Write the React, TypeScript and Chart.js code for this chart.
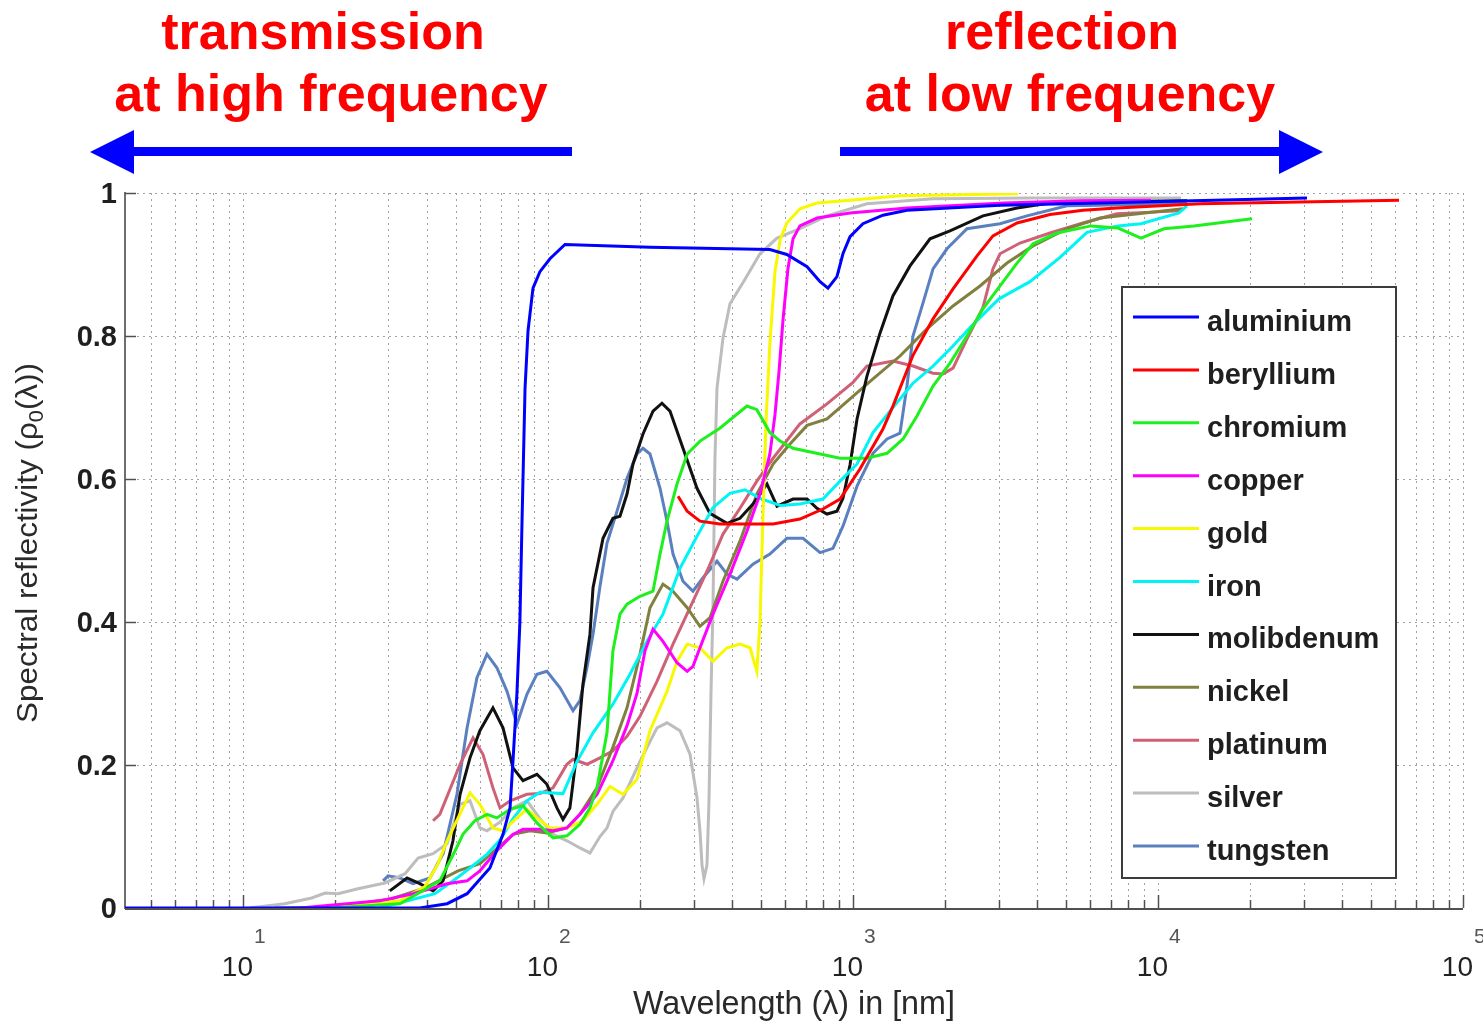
import React, { useEffect, useRef } from "react";
import { Chart, registerables } from "chart.js";

Chart.register(...registerables);

// ---------------- data (wavelength in nm, spectral reflectivity 0..1) ----------------
const seriesNames = [
  "aluminium", "beryllium", "chromium", "copper", "gold", "iron",
  "molibdenum", "nickel", "platinum", "silver", "tungsten",
];
const seriesColors = [
  "#0000FF", "#FF0000", "#1EF01E", "#FF00FF", "#F8F800", "#00F4F4",
  "#111111", "#82803F", "#CF6176", "#BDBDBD", "#5B80C0",
];

const aluminiumWavelength = [4.1, 38.0, 46.7, 54.3, 64.5, 71.2, 75.1, 76.8, 79.1, 80.9, 82.2, 84.1, 86.0, 89.3, 94.1, 101.5, 113.7, 216, 534, 607, 707, 780, 828, 886, 927, 978, 1078, 1254, 1503, 3034, 6453, 30800];
const aluminiumReflectivity = [0, 0, 0.006, 0.020, 0.056, 0.103, 0.140, 0.206, 0.300, 0.400, 0.540, 0.727, 0.807, 0.867, 0.890, 0.908, 0.928, 0.924, 0.921, 0.914, 0.897, 0.876, 0.867, 0.883, 0.915, 0.939, 0.957, 0.969, 0.976, 0.983, 0.986, 0.993];

const berylliumWavelength = [267, 286, 315, 366, 547, 670, 797, 907, 1054, 1254, 1352, 1573, 1830, 2128, 2551, 2877, 3450, 4425, 5677, 7338, 13730, 61680];
const berylliumReflectivity = [0.576, 0.555, 0.541, 0.537, 0.537, 0.544, 0.558, 0.572, 0.614, 0.670, 0.702, 0.773, 0.824, 0.866, 0.912, 0.940, 0.958, 0.970, 0.976, 0.979, 0.985, 0.990];

const chromiumWavelength = [19.3, 32.7, 44.2, 49.6, 52.6, 57.6, 63.1, 68.0, 75.1, 82.8, 92.0, 103.9, 115.4, 127.3, 137.3, 144.8, 156.1, 163.3, 172.2, 181.6, 200.3, 221.0, 233.0, 245.6, 264.9, 286, 315, 366, 449, 484, 534, 577, 636, 907, 1111, 1293, 1459, 1621, 1830, 2080, 2365, 2668, 3034, 3450, 3893, 4665, 6030, 7395, 8797, 10460, 13120, 20330];
const chromiumReflectivity = [0, 0.006, 0.038, 0.080, 0.103, 0.122, 0.131, 0.126, 0.138, 0.143, 0.119, 0.098, 0.101, 0.117, 0.140, 0.168, 0.245, 0.360, 0.411, 0.425, 0.436, 0.443, 0.495, 0.541, 0.593, 0.635, 0.653, 0.671, 0.702, 0.697, 0.665, 0.653, 0.643, 0.629, 0.629, 0.636, 0.656, 0.688, 0.730, 0.762, 0.800, 0.838, 0.870, 0.902, 0.929, 0.944, 0.954, 0.951, 0.937, 0.950, 0.954, 0.964];

const copperWavelength = [15.4, 28.1, 36.1, 46.7, 54.3, 59.8, 68.0, 76.8, 82.8, 94.1, 103.9, 115.4, 127.3, 144.8, 163.3, 181.6, 195.8, 208.0, 221.0, 238.2, 264.9, 286, 298.8, 315, 347.5, 395.1, 449, 495.6, 534, 555, 572, 590, 612, 636, 670, 762, 978, 1503, 3127, 5551, 9484];
const copperReflectivity = [0, 0.010, 0.020, 0.034, 0.038, 0.052, 0.080, 0.103, 0.110, 0.110, 0.108, 0.112, 0.131, 0.159, 0.206, 0.255, 0.300, 0.360, 0.390, 0.373, 0.343, 0.331, 0.338, 0.364, 0.411, 0.467, 0.527, 0.579, 0.635, 0.690, 0.750, 0.824, 0.894, 0.936, 0.954, 0.965, 0.972, 0.979, 0.986, 0.989, 0.990];

const goldWavelength = [19.3, 32.7, 39.5, 43.6, 46.7, 52.6, 55.5, 59.8, 66.0, 71.2, 79.1, 85.3, 92.0, 101.5, 115.4, 130.2, 144.8, 159.7, 176.2, 195.8, 216, 245.6, 264.9, 286, 315, 347.5, 386.3, 426.1, 459.6, 484, 495.6, 506.9, 518.6, 534, 555, 577, 607, 670, 762, 978, 1426, 3475];
const goldReflectivity = [0, 0.010, 0.030, 0.062, 0.094, 0.140, 0.161, 0.145, 0.112, 0.108, 0.126, 0.138, 0.126, 0.112, 0.112, 0.122, 0.145, 0.170, 0.159, 0.180, 0.248, 0.303, 0.345, 0.369, 0.364, 0.345, 0.364, 0.369, 0.364, 0.331, 0.400, 0.550, 0.680, 0.790, 0.890, 0.935, 0.958, 0.978, 0.986, 0.990, 0.996, 0.999];

const ironWavelength = [28.1, 42.6, 50.3, 55.5, 63.1, 69.6, 76.8, 85.3, 94.1, 112.0, 124.5, 140.5, 163.3, 185.7, 211.2, 238.2, 270.9, 308.0, 347.5, 395.1, 442.5, 495.6, 577, 670, 797, 907, 1031, 1163, 1352, 1573, 1830, 2128, 2474, 3011, 3805, 4772, 5851, 7395, 8797, 11720, 12450];
const ironReflectivity = [0, 0.020, 0.042, 0.056, 0.075, 0.095, 0.125, 0.150, 0.162, 0.160, 0.205, 0.245, 0.285, 0.327, 0.373, 0.411, 0.475, 0.520, 0.560, 0.580, 0.585, 0.573, 0.563, 0.565, 0.572, 0.597, 0.621, 0.665, 0.700, 0.734, 0.758, 0.786, 0.816, 0.852, 0.876, 0.910, 0.945, 0.954, 0.957, 0.972, 0.982];

const molibdenumWavelength = [30.3, 34.5, 38.0, 42.0, 45.3, 48.8, 51.5, 55.5, 59.8, 66.0, 71.2, 76.8, 82.8, 92.0, 99.2, 107.0, 112.0, 118.0, 124.5, 130.2, 137.3, 140.5, 151.5, 163.3, 172.2, 181.6, 190.0, 204.9, 221.0, 236.4, 251.2, 277.1, 308.0, 339.7, 386.3, 426.1, 469.9, 522.4, 563.5, 636, 707, 762, 821.8, 886, 927, 978, 1031, 1111, 1226, 1352, 1538, 1789, 2080, 2668, 3450, 4425, 5551, 12450];
const molibdenumReflectivity = [0.024, 0.042, 0.034, 0.024, 0.038, 0.094, 0.159, 0.210, 0.248, 0.280, 0.252, 0.196, 0.178, 0.187, 0.173, 0.140, 0.124, 0.140, 0.220, 0.313, 0.383, 0.448, 0.517, 0.545, 0.548, 0.579, 0.621, 0.663, 0.695, 0.706, 0.695, 0.643, 0.587, 0.552, 0.538, 0.545, 0.565, 0.593, 0.562, 0.572, 0.572, 0.559, 0.551, 0.555, 0.573, 0.620, 0.684, 0.744, 0.804, 0.856, 0.898, 0.936, 0.947, 0.968, 0.979, 0.986, 0.987, 0.989];

const nickelWavelength = [12.7, 18.6, 23.8, 30.8, 39.5, 50.7, 59.8, 76.8, 87.3, 99.2, 115.4, 127.3, 144.8, 163.3, 181.6, 200.3, 216, 238.2, 257.0, 286, 315, 339.7, 374.8, 426.1, 484, 547, 621.5, 707, 821.8, 978, 1163, 1426, 1748, 2128, 2609, 3199, 3893, 5031, 6453, 12080];
const nickelReflectivity = [0, 0.001, 0.006, 0.013, 0.028, 0.052, 0.062, 0.103, 0.108, 0.105, 0.112, 0.131, 0.168, 0.225, 0.280, 0.355, 0.420, 0.453, 0.443, 0.420, 0.394, 0.406, 0.457, 0.513, 0.579, 0.621, 0.649, 0.675, 0.684, 0.712, 0.740, 0.772, 0.810, 0.842, 0.870, 0.902, 0.926, 0.950, 0.965, 0.978];

const platinumWavelength = [42.0, 44.2, 51.5, 56.8, 61.2, 66.0, 69.6, 75.1, 85.3, 94.1, 103.9, 115.4, 120.8, 134.2, 148.1, 163.3, 181.6, 200.3, 227.7, 257.0, 292.2, 332.1, 374.8, 426.1, 484, 547, 670, 821.8, 1000, 1111, 1352, 1573, 1830, 1973, 2128, 2365, 2668, 2877, 3034, 3528, 4425, 5677, 7338, 11720];
const platinumReflectivity = [0.122, 0.131, 0.201, 0.238, 0.215, 0.168, 0.140, 0.150, 0.159, 0.160, 0.168, 0.201, 0.208, 0.201, 0.210, 0.220, 0.240, 0.268, 0.317, 0.369, 0.420, 0.471, 0.523, 0.559, 0.597, 0.629, 0.677, 0.705, 0.735, 0.758, 0.765, 0.758, 0.748, 0.747, 0.755, 0.796, 0.840, 0.894, 0.915, 0.930, 0.944, 0.958, 0.971, 0.975];

const silverWavelength = [10.5, 13.7, 16.8, 18.6, 20.5, 23.8, 29.2, 34.0, 37.5, 42.0, 46.7, 51.5, 55.5, 59.8, 63.1, 69.6, 76.8, 85.3, 94.1, 103.9, 115.4, 127.3, 137.3, 148.1, 156.1, 163.3, 176.2, 200.3, 227.7, 245.6, 270.9, 292.2, 308.0, 315, 319.9, 324.7, 332.1, 337.2, 342.3, 347.5, 352.8, 358.2, 374.8, 395.1, 439.1, 495.6, 563.5, 670, 821.8, 1111, 1830, 3893, 11900];
const silverReflectivity = [0, 0.006, 0.014, 0.021, 0.020, 0.027, 0.035, 0.048, 0.070, 0.076, 0.090, 0.145, 0.150, 0.112, 0.108, 0.120, 0.140, 0.150, 0.125, 0.103, 0.094, 0.084, 0.077, 0.100, 0.112, 0.135, 0.154, 0.205, 0.252, 0.259, 0.248, 0.215, 0.154, 0.108, 0.060, 0.041, 0.060, 0.150, 0.300, 0.420, 0.630, 0.727, 0.797, 0.845, 0.877, 0.915, 0.937, 0.950, 0.968, 0.985, 0.992, 0.993, 0.993];

const tungstenWavelength = [28.8, 29.9, 32.7, 36.1, 41.0, 45.3, 50.3, 54.3, 58.5, 63.1, 68.0, 73.4, 79.1, 85.3, 92.0, 99.2, 109.5, 120.8, 127.3, 134.2, 140.5, 148.1, 156.1, 168.4, 181.6, 195.8, 204.9, 216, 233.0, 245.6, 257.0, 277.1, 298.8, 322.3, 358.2, 386.3, 416.6, 469.9, 534, 607, 685.7, 780, 859.7, 927, 1031, 1163, 1293, 1426, 1503, 1573, 1696, 1830, 2033, 2365, 3034, 3719, 5031, 12450];
const tungstenReflectivity = [0.038, 0.045, 0.042, 0.034, 0.042, 0.076, 0.159, 0.252, 0.322, 0.355, 0.336, 0.303, 0.257, 0.299, 0.327, 0.331, 0.308, 0.276, 0.290, 0.336, 0.383, 0.450, 0.510, 0.555, 0.601, 0.635, 0.643, 0.635, 0.587, 0.541, 0.495, 0.457, 0.443, 0.462, 0.485, 0.467, 0.460, 0.481, 0.495, 0.517, 0.517, 0.497, 0.503, 0.534, 0.590, 0.636, 0.656, 0.664, 0.730, 0.800, 0.846, 0.894, 0.922, 0.950, 0.957, 0.968, 0.982, 0.985];

// axis ticks and labels
const xMin = 4.104;
const xMax = 100000;
const xMajorTicks = [10, 100, 1000, 10000, 100000];
const xMajorExponents = ["1", "2", "3", "4", "5"];
const xDecadeStarts = [1, 10, 100, 1000, 10000];
const xMinorFactors = [2, 3, 4, 5, 6, 7, 8, 9];
const yTicks = [0, 0.2, 0.4, 0.6, 0.8, 1];
const yTickLabels = ["0", "0.2", "0.4", "0.6", "0.8", "1"];
const xAxisTitle = "Wavelength (\u03bb) in [nm]";
const yAxisTitleParts = ["Spectral reflectivity (\u03c1", "0", "(\u03bb))"];
const leftNote = ["transmission", "at high frequency"];
const rightNote = ["reflection", "at low frequency"];

const seriesData: number[][][] = [
  [aluminiumWavelength, aluminiumReflectivity],
  [berylliumWavelength, berylliumReflectivity],
  [chromiumWavelength, chromiumReflectivity],
  [copperWavelength, copperReflectivity],
  [goldWavelength, goldReflectivity],
  [ironWavelength, ironReflectivity],
  [molibdenumWavelength, molibdenumReflectivity],
  [nickelWavelength, nickelReflectivity],
  [platinumWavelength, platinumReflectivity],
  [silverWavelength, silverReflectivity],
  [tungstenWavelength, tungstenReflectivity],
];

const FONT = '"Liberation Sans", Arial, Helvetica, sans-serif';

function xGridValues(): number[] {
  const vals: number[] = [];
  xDecadeStarts.forEach((d) => {
    xMinorFactors.forEach((f) => {
      const v = d * f;
      if (v >= xMin && v <= xMax) vals.push(v);
    });
  });
  return vals;
}

function fitFontSize(ctx: CanvasRenderingContext2D, text: string, weight: string, target: number) {
  ctx.font = `${weight} 100px ${FONT}`;
  const w = ctx.measureText(text).width;
  return (100 * target) / w;
}

const decorPlugin = {
  id: "decor",
  beforeDraw(chart: any) {
    const { ctx } = chart;
    ctx.save();
    ctx.fillStyle = "#ffffff";
    ctx.fillRect(0, 0, chart.width, chart.height);
    ctx.restore();
  },
  beforeDatasetsDraw(chart: any) {
    const { ctx, chartArea: a, scales } = chart;
    const xs = scales.x;
    const ys = scales.y;
    ctx.save();
    // dotted grid
    ctx.strokeStyle = "#a2a2a2";
    ctx.lineWidth = 1;
    ctx.setLineDash([2, 4]);
    const minors = xGridValues();
    [...minors, ...xMajorTicks].forEach((v) => {
      const px = Math.round(xs.getPixelForValue(v)) + 0.5;
      ctx.beginPath();
      ctx.moveTo(px, a.top);
      ctx.lineTo(px, a.bottom);
      ctx.stroke();
    });
    yTicks.forEach((v) => {
      if (v === 0) return;
      const py = Math.round(ys.getPixelForValue(v)) + 0.5;
      ctx.beginPath();
      ctx.moveTo(a.left, py);
      ctx.lineTo(a.right, py);
      ctx.stroke();
    });
    ctx.setLineDash([]);
    // axis lines
    ctx.strokeStyle = "#6f6f6f";
    ctx.lineWidth = 2;
    ctx.beginPath();
    ctx.moveTo(a.left, a.top - 1);
    ctx.lineTo(a.left, a.bottom + 1);
    ctx.stroke();
    ctx.strokeStyle = "#505050";
    ctx.beginPath();
    ctx.moveTo(a.left, a.bottom + 1);
    ctx.lineTo(a.right, a.bottom + 1);
    ctx.stroke();
    // tick marks
    ctx.lineWidth = 1.5;
    minors.forEach((v) => {
      const px = Math.round(xs.getPixelForValue(v)) + 0.5;
      ctx.beginPath();
      ctx.moveTo(px, a.bottom);
      ctx.lineTo(px, a.bottom - 8);
      ctx.stroke();
    });
    xMajorTicks.forEach((v) => {
      const px = Math.round(xs.getPixelForValue(v)) + 0.5;
      ctx.beginPath();
      ctx.moveTo(px, a.bottom);
      ctx.lineTo(px, a.bottom - 13);
      ctx.stroke();
    });
    yTicks.forEach((v) => {
      const py = Math.round(ys.getPixelForValue(v)) + 0.5;
      ctx.beginPath();
      ctx.moveTo(a.left, py);
      ctx.lineTo(a.left + 11, py);
      ctx.stroke();
    });
    ctx.restore();
  },
  afterDraw(chart: any) {
    const { ctx, chartArea: a, scales } = chart;
    const xs = scales.x;
    const ys = scales.y;
    ctx.save();

    // y tick labels
    ctx.fillStyle = "#1f1f1f";
    ctx.font = `bold 29px ${FONT}`;
    ctx.textAlign = "right";
    ctx.textBaseline = "middle";
    yTicks.forEach((v, i) => {
      ctx.fillText(yTickLabels[i], a.left - 8, ys.getPixelForValue(v) + 2);
    });

    // x tick labels (10 with superscript exponent)
    ctx.textBaseline = "alphabetic";
    xMajorTicks.forEach((v, i) => {
      const px = xs.getPixelForValue(v);
      ctx.font = `28px ${FONT}`;
      ctx.fillStyle = "#222222";
      ctx.textAlign = "right";
      ctx.fillText("10", px + 10, 976);
      ctx.font = `21px ${FONT}`;
      ctx.fillStyle = "#555555";
      ctx.textAlign = "left";
      ctx.fillText(xMajorExponents[i], px + 11, 943);
    });

    // x axis title
    ctx.fillStyle = "#2a2a2a";
    const xtSize = fitFontSize(ctx, xAxisTitle, "normal", 322);
    ctx.font = `${xtSize}px ${FONT}`;
    ctx.textAlign = "center";
    ctx.fillText(xAxisTitle, (a.left + a.right) / 2, 1014);

    // y axis title (rotated, with subscript)
    ctx.save();
    ctx.translate(37, 543);
    ctx.rotate(-Math.PI / 2);
    const mainSize = 29;
    const subSize = 20;
    ctx.font = `${mainSize}px ${FONT}`;
    const w1 = ctx.measureText(yAxisTitleParts[0]).width;
    const w3 = ctx.measureText(yAxisTitleParts[2]).width;
    ctx.font = `${subSize}px ${FONT}`;
    const w2 = ctx.measureText(yAxisTitleParts[1]).width;
    const total = w1 + w2 + w3;
    const sx = 360 / total;
    ctx.scale(sx, 1);
    let cx = -total / 2;
    ctx.textAlign = "left";
    ctx.fillStyle = "#2a2a2a";
    ctx.font = `${mainSize}px ${FONT}`;
    ctx.fillText(yAxisTitleParts[0], cx, 0);
    cx += w1;
    ctx.font = `${subSize}px ${FONT}`;
    ctx.fillText(yAxisTitleParts[1], cx, 6);
    cx += w2;
    ctx.font = `${mainSize}px ${FONT}`;
    ctx.fillText(yAxisTitleParts[2], cx, 0);
    ctx.restore();

    // red annotations
    ctx.fillStyle = "#FF0000";
    ctx.font = `bold 52px ${FONT}`;
    ctx.textAlign = "center";
    ctx.fillText(leftNote[0], 323, 49);
    ctx.fillText(leftNote[1], 331, 111);
    ctx.fillText(rightNote[0], 1062, 49);
    ctx.fillText(rightNote[1], 1070, 111);

    // blue arrows
    ctx.fillStyle = "#0000FF";
    ctx.fillRect(128, 147, 572 - 128, 9);
    ctx.beginPath();
    ctx.moveTo(90, 152);
    ctx.lineTo(134, 130);
    ctx.lineTo(134, 174);
    ctx.closePath();
    ctx.fill();
    ctx.fillRect(840, 147, 1284 - 840, 9);
    ctx.beginPath();
    ctx.moveTo(1323, 152);
    ctx.lineTo(1279, 130);
    ctx.lineTo(1279, 174);
    ctx.closePath();
    ctx.fill();

    // legend
    const lx0 = 1122, ly0 = 287, lx1 = 1396, ly1 = 878;
    ctx.fillStyle = "#ffffff";
    ctx.fillRect(lx0, ly0, lx1 - lx0, ly1 - ly0);
    ctx.strokeStyle = "#3c3c3c";
    ctx.lineWidth = 2;
    ctx.strokeRect(lx0, ly0, lx1 - lx0, ly1 - ly0);
    const items = chart.data.datasets;
    ctx.textAlign = "left";
    ctx.textBaseline = "alphabetic";
    items.forEach((ds: any, i: number) => {
      const y = 317 + i * 52.9;
      ctx.strokeStyle = ds.borderColor;
      ctx.lineWidth = 3;
      ctx.beginPath();
      ctx.moveTo(1133, y);
      ctx.lineTo(1199, y);
      ctx.stroke();
      ctx.fillStyle = "#1f1f1f";
      ctx.font = `bold 29px ${FONT}`;
      ctx.fillText(ds.label, 1207, y + 14);
    });

    ctx.restore();
  },
};

export default function App() {
  const canvasRef = useRef<HTMLCanvasElement | null>(null);

  useEffect(() => {
    const canvas = canvasRef.current;
    if (!canvas) return;
    const datasets = seriesNames.map((name, i) => ({
      label: name,
      data: seriesData[i][0].map((x, j) => ({ x, y: seriesData[i][1][j] })),
      borderColor: seriesColors[i],
      backgroundColor: seriesColors[i],
      borderWidth: 3,
      pointRadius: 0,
      pointHoverRadius: 0,
      tension: 0,
      fill: false,
    }));
    const chart = new Chart(canvas, {
      type: "line",
      data: { datasets },
      options: {
        animation: false,
        responsive: false,
        devicePixelRatio: 1,
        events: [],
        layout: { padding: { left: 0, top: 193, right: 20, bottom: 0 } },
        plugins: {
          legend: { display: false },
          tooltip: { enabled: false },
          title: { display: false },
        },
        scales: {
          x: {
            type: "logarithmic",
            min: xMin,
            max: xMax,
            ticks: { display: false },
            grid: { display: false },
            border: { display: false },
            afterFit: (s: any) => {
              s.height = 116;
            },
          },
          y: {
            type: "linear",
            min: 0,
            max: 1,
            ticks: { display: false },
            grid: { display: false },
            border: { display: false },
            afterFit: (s: any) => {
              s.width = 125;
            },
          },
        },
      } as any,
      plugins: [decorPlugin as any],
    });
    return () => chart.destroy();
  }, []);

  return (
    <div style={{ position: "absolute", left: 0, top: 0, width: 1483, height: 1024, background: "#fff" }}>
      <canvas ref={canvasRef} width={1483} height={1024} style={{ display: "block", width: 1483, height: 1024 }} />
    </div>
  );
}
